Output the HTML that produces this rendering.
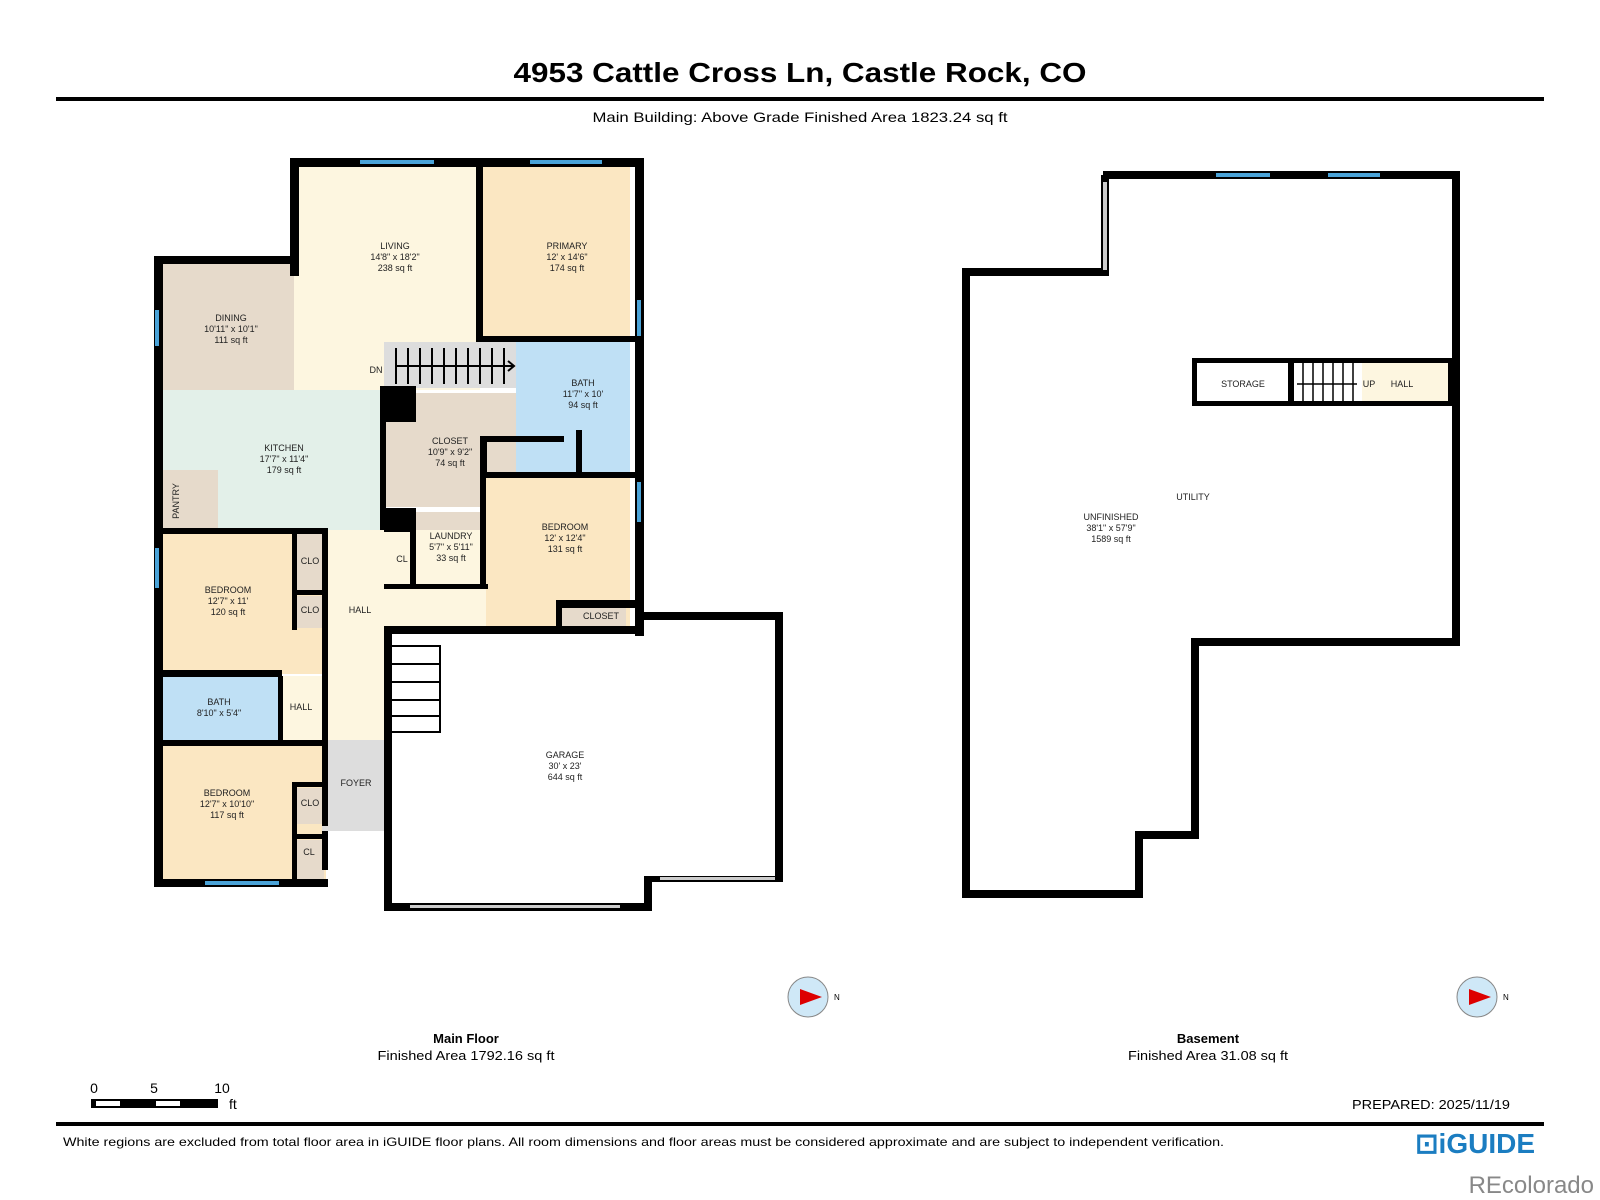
<!DOCTYPE html>
<html><head><meta charset="utf-8"><style>
html,body{margin:0;padding:0;background:#fff;}
svg{display:block;font-family:"Liberation Sans",sans-serif;}
.l{font-size:9px;fill:#222;text-anchor:middle;}
</style></head><body>
<svg width="1600" height="1200" viewBox="0 0 1600 1200" xmlns="http://www.w3.org/2000/svg">
<text x="800" y="82" font-size="28" font-weight="bold" text-anchor="middle" textLength="573" lengthAdjust="spacingAndGlyphs">4953 Cattle Cross Ln, Castle Rock, CO</text>
<rect x="56" y="97" width="1488" height="4" fill="#000"/>
<text x="800" y="122" font-size="14" text-anchor="middle" textLength="415" lengthAdjust="spacingAndGlyphs">Main Building: Above Grade Finished Area 1823.24 sq ft</text>

<!-- room fills -->
<rect x="294" y="162" width="186" height="228" fill="#fdf6e0"/>
<rect x="480" y="162" width="150" height="178" fill="#fbe7c2"/>
<rect x="158" y="258" width="136" height="132" fill="#e6dacb"/>
<rect x="158" y="390" width="222" height="140" fill="#e3f0e9"/>
<rect x="158" y="470" width="60" height="60" fill="#e6dacb"/>
<rect x="384" y="342" width="132" height="46" fill="#ddd"/>
<rect x="384" y="393" width="132" height="114" fill="#e6dacb"/>
<rect x="516" y="342" width="114" height="132" fill="#bfe0f5"/>
<rect x="480" y="476" width="150" height="152" fill="#fbe7c2"/>
<rect x="560" y="604" width="66" height="24" fill="#e6dacb"/>
<rect x="415" y="512" width="70" height="75" fill="#e6dacb"/>
<rect x="388" y="532" width="26" height="55" fill="#e6dacb"/>
<rect x="326" y="530" width="160" height="100" fill="#fdf6e0"/>
<rect x="326" y="530" width="58" height="210" fill="#fdf6e0"/>
<rect x="158" y="534" width="168" height="140" fill="#fbe7c2"/>
<rect x="296" y="534" width="28" height="60" fill="#e6dacb"/>
<rect x="296" y="596" width="28" height="32" fill="#e6dacb"/>
<rect x="158" y="676" width="120" height="66" fill="#bfe0f5"/>
<rect x="280" y="676" width="44" height="66" fill="#fdf6e0"/>
<rect x="158" y="746" width="168" height="136" fill="#fbe7c2"/>
<rect x="296" y="788" width="28" height="36" fill="#e6dacb"/>
<rect x="296" y="840" width="28" height="40" fill="#e6dacb"/>
<rect x="326" y="740" width="58" height="90" fill="#ddd"/>

<!-- walls -->
<g fill="#000">
<rect x="290" y="158" width="354" height="9"/>
<rect x="290" y="158" width="9" height="118"/>
<rect x="154" y="256" width="145" height="8"/>
<rect x="154" y="256" width="9" height="630"/>
<rect x="635" y="158" width="9" height="478"/>
<rect x="476" y="158" width="7" height="184"/>
<rect x="476" y="336" width="168" height="6"/>
<rect x="384" y="386" width="32" height="36"/>
<rect x="380" y="386" width="6" height="144"/>
<rect x="480" y="436" width="7" height="40"/>
<rect x="480" y="472" width="164" height="6"/>
<rect x="480" y="436" width="84" height="6"/>
<rect x="576" y="430" width="6" height="46"/>
<rect x="154" y="528" width="174" height="6"/>
<rect x="384" y="508" width="32" height="24"/>
<rect x="410" y="508" width="6" height="80"/>
<rect x="384" y="584" width="104" height="5"/>
<rect x="480" y="478" width="6" height="110"/>
<rect x="292" y="530" width="5" height="100"/>
<rect x="322" y="530" width="6" height="340"/>
<rect x="292" y="590" width="34" height="5"/>
<rect x="154" y="670" width="128" height="7"/>
<rect x="278" y="676" width="5" height="66"/>
<rect x="154" y="740" width="174" height="6"/>
<rect x="292" y="782" width="34" height="5"/>
<rect x="292" y="782" width="5" height="100"/>
<rect x="292" y="834" width="34" height="5"/>
<rect x="154" y="879" width="174" height="8"/>
<rect x="384" y="626" width="8" height="285"/>
<rect x="384" y="626" width="256" height="8"/>
<rect x="556" y="600" width="88" height="8"/>
<rect x="556" y="600" width="6" height="32"/>
<rect x="640" y="612" width="142" height="8"/>
<rect x="775" y="612" width="8" height="270"/>
<rect x="384" y="903" width="268" height="8"/>
<rect x="644" y="876" width="8" height="35"/>
<rect x="644" y="876" width="138" height="6"/>
<rect x="322" y="826" width="62" height="5" fill="#ddd"/>
</g>
<!-- windows -->
<g fill="#4aa3d8">
<rect x="360" y="160" width="74" height="4"/>
<rect x="530" y="160" width="72" height="4"/>
<rect x="155" y="310" width="4" height="36"/>
<rect x="637" y="300" width="4" height="36"/>
<rect x="637" y="482" width="4" height="40"/>
<rect x="155" y="548" width="4" height="40"/>
<rect x="205" y="881" width="74" height="4"/>
<rect x="410" y="905" width="210" height="3" fill="#ccc"/>
<rect x="660" y="877" width="115" height="3" fill="#ccc"/>
</g>
<!-- stairs -->
<g stroke="#000" stroke-width="2" fill="none">
<path d="M396 348v36M408 348v36M420 348v36M432 348v36M444 348v36M456 348v36M468 348v36M480 348v36M492 348v36M504 348v36"/>
<path d="M396 366h118M508 361l6 5-6 5"/>
<path d="M392 646h48v86h-48M392 664h48M392 682h48M392 700h48M392 716h48"/>
</g>
<!-- labels -->
<g class="l">
<text x="395" y="249">LIVING</text><text x="395" y="260">14'8" x 18'2"</text><text x="395" y="271">238 sq ft</text>
<text x="567" y="249">PRIMARY</text><text x="567" y="260">12' x 14'6"</text><text x="567" y="271">174 sq ft</text>
<text x="231" y="321">DINING</text><text x="231" y="332">10'11" x 10'1"</text><text x="231" y="343">111 sq ft</text>
<text x="284" y="451">KITCHEN</text><text x="284" y="462">17'7" x 11'4"</text><text x="284" y="473">179 sq ft</text>
<text x="450" y="444">CLOSET</text><text x="450" y="455">10'9" x 9'2"</text><text x="450" y="466">74 sq ft</text>
<text x="583" y="386">BATH</text><text x="583" y="397">11'7" x 10'</text><text x="583" y="408">94 sq ft</text>
<text x="565" y="530">BEDROOM</text><text x="565" y="541">12' x 12'4"</text><text x="565" y="552">131 sq ft</text>
<text x="451" y="539">LAUNDRY</text><text x="451" y="550">5'7" x 5'11"</text><text x="451" y="561">33 sq ft</text>
<text x="228" y="593">BEDROOM</text><text x="228" y="604">12'7" x 11'</text><text x="228" y="615">120 sq ft</text>
<text x="219" y="705">BATH</text><text x="219" y="716">8'10" x 5'4"</text>
<text x="227" y="796">BEDROOM</text><text x="227" y="807">12'7" x 10'10"</text><text x="227" y="818">117 sq ft</text>
<text x="565" y="758">GARAGE</text><text x="565" y="769">30' x 23'</text><text x="565" y="780">644 sq ft</text>
<text x="376" y="373">DN</text>
<text x="310" y="564">CLO</text><text x="310" y="613">CLO</text><text x="310" y="806">CLO</text><text x="309" y="855">CL</text>
<text x="402" y="562">CL</text><text x="360" y="613">HALL</text><text x="301" y="710">HALL</text><text x="356" y="786">FOYER</text>
<text x="601" y="619">CLOSET</text>
<text x="179" y="501" transform="rotate(-90 179 501)">PANTRY</text>
</g>

<!-- basement -->
<g fill="none" stroke="#000" stroke-width="8">
<path d="M1103 175H1456V642H1195V835H1139V894H966V272H1105V175"/>
</g>
<rect x="1103" y="182" width="4" height="88" fill="#ccc"/>
<rect x="1216" y="173" width="54" height="4" fill="#4aa3d8"/>
<rect x="1328" y="173" width="52" height="4" fill="#4aa3d8"/>
<rect x="1362" y="362" width="86" height="42" fill="#fdf6e0"/>
<g fill="#000">
<rect x="1192" y="358" width="264" height="5"/>
<rect x="1192" y="401" width="264" height="5"/>
<rect x="1192" y="358" width="5" height="48"/>
<rect x="1288" y="358" width="6" height="48"/>
<rect x="1448" y="358" width="5" height="48"/>
</g>
<g stroke="#000" stroke-width="1.5" fill="none"><path d="M1303 363v38M1313 363v38M1323 363v38M1333 363v38M1343 363v38M1353 363v38M1297 384h60"/></g>
<g class="l">
<text x="1243" y="387">STORAGE</text><text x="1369" y="387">UP</text><text x="1402" y="387">HALL</text>
<text x="1193" y="500">UTILITY</text>
<text x="1111" y="520">UNFINISHED</text><text x="1111" y="531">38'1" x 57'9"</text><text x="1111" y="542">1589 sq ft</text>
</g>

<!-- compasses -->
<circle cx="808" cy="997" r="20" fill="#cfe8f7" stroke="#888"/><path d="M800 989l22 8-22 8z" fill="#d00"/><text x="834" y="1000" font-size="8">N</text>
<circle cx="1477" cy="997" r="20" fill="#cfe8f7" stroke="#888"/><path d="M1469 989l22 8-22 8z" fill="#d00"/><text x="1503" y="1000" font-size="8">N</text>

<text x="466" y="1043" font-size="13" font-weight="bold" text-anchor="middle">Main Floor</text>
<text x="466" y="1060" font-size="13" text-anchor="middle" textLength="177" lengthAdjust="spacingAndGlyphs">Finished Area 1792.16 sq ft</text>
<text x="1208" y="1043" font-size="13" font-weight="bold" text-anchor="middle">Basement</text>
<text x="1208" y="1060" font-size="13" text-anchor="middle" textLength="160" lengthAdjust="spacingAndGlyphs">Finished Area 31.08 sq ft</text>

<text x="94" y="1093" font-size="14" text-anchor="middle">0</text>
<text x="154" y="1093" font-size="14" text-anchor="middle">5</text>
<text x="222" y="1093" font-size="14" text-anchor="middle">10</text>
<rect x="91" y="1099" width="127" height="9" fill="#000"/>
<rect x="96" y="1101" width="24" height="5" fill="#fff"/>
<rect x="156" y="1101" width="24" height="5" fill="#fff"/>
<text x="229" y="1109" font-size="14">ft</text>
<text x="1510" y="1109" font-size="13" text-anchor="end" textLength="158" lengthAdjust="spacingAndGlyphs">PREPARED: 2025/11/19</text>
<rect x="56" y="1122" width="1488" height="4" fill="#000"/>
<text x="63" y="1146" font-size="12" textLength="1161" lengthAdjust="spacingAndGlyphs">White regions are excluded from total floor area in iGUIDE floor plans. All room dimensions and floor areas must be considered approximate and are subject to independent verification.</text>
<text x="1535" y="1153" font-size="28" font-weight="bold" fill="#1b7dc1" text-anchor="end">⊡iGUIDE</text>
<text x="1594" y="1193" font-size="24" fill="#888" text-anchor="end">REcolorado</text>
</svg>
</body></html>
